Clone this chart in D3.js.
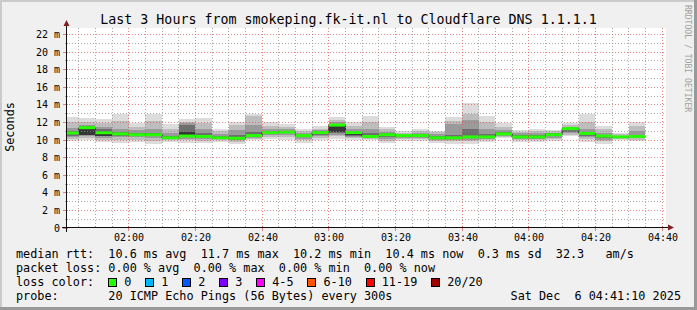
<!DOCTYPE html>
<html>
<head>
<meta charset="utf-8">
<script src="https://cdn.jsdelivr.net/npm/d3@7/dist/d3.min.js"></script>
<style>
  body { margin: 0; background: #f0f0f0; }
  svg { display: block; font-family: "DejaVu Sans Mono", monospace; }
  text { white-space: pre; }
</style>
</head>
<body>
<svg id="chart" width="697" height="310"></svg>
<script>
// time window of the graph (3 hours), rrd step 300s
const graphStart = new Date(Date.UTC(2025, 11, 6, 1, 41, 10));
const graphEnd = new Date(Date.UTC(2025, 11, 6, 4, 41, 10));
const firstBin = new Date(Date.UTC(2025, 11, 6, 1, 40, 0));
const stepMinutes = 5;

// median rtt per bin (ms)
const medians = [
  10.8, 11.4, 10.83, 10.7, 10.6, 10.6, 10.25, 10.45, 10.4, 10.25,
  10.2, 10.5, 10.85, 10.9, 10.5, 10.85, 11.7, 10.85, 10.4, 10.6,
  10.5, 10.5, 10.25, 10.25, 10.35, 10.35, 10.7, 10.35, 10.35, 10.6,
  11.3, 10.75, 10.45, 10.35, 10.4
];

// sorted ping samples per bin (ms), outer pair first -> inner pair
const smoke = [
  [9.9, 10.1, 10.3, 10.5, 10.7, 10.9, 11.0, 11.4, 12.0, 12.6],
  [9.95, 10.2, 10.4, 10.55, 10.6, 11.5, 11.55, 11.7, 12.0, 12.5],
  [9.8, 10.0, 10.2, 10.4, 10.5, 11.0, 11.2, 11.5, 11.9, 12.4],
  [9.7, 10.0, 10.3, 10.5, 10.65, 10.75, 10.9, 11.3, 12.2, 12.9],
  [9.75, 10.0, 10.3, 10.5, 10.55, 10.65, 10.85, 11.1, 11.5, 11.9],
  [9.6, 9.9, 10.25, 10.45, 10.55, 10.65, 10.85, 11.2, 12.2, 12.9],
  [9.8, 9.95, 10.1, 10.2, 10.2, 10.3, 10.5, 10.8, 11.2, 11.8],
  [9.7, 9.95, 10.15, 10.35, 10.4, 10.9, 11.7, 11.9, 12.1, 12.4],
  [9.65, 9.9, 10.1, 10.25, 10.35, 10.45, 10.8, 11.3, 11.9, 12.5],
  [9.75, 9.95, 10.1, 10.2, 10.2, 10.3, 10.45, 10.7, 11.0, 11.3],
  [9.55, 9.8, 9.95, 10.05, 10.15, 10.25, 10.6, 11.1, 11.7, 12.1],
  [9.95, 10.1, 10.25, 10.4, 10.45, 10.55, 10.9, 11.7, 12.7, 12.95],
  [10.15, 10.35, 10.55, 10.7, 10.8, 10.9, 11.0, 11.2, 11.6, 12.0],
  [10.0, 10.3, 10.55, 10.75, 10.85, 10.95, 11.05, 11.2, 11.5, 11.8],
  [9.7, 9.95, 10.15, 10.3, 10.45, 10.55, 10.6, 10.75, 11.0, 11.3],
  [10.0, 10.2, 10.4, 10.6, 10.8, 10.9, 10.95, 11.1, 11.3, 11.6],
  [10.15, 10.4, 10.6, 10.8, 10.9, 11.7, 11.8, 12.0, 12.3, 12.65],
  [10.05, 10.2, 10.35, 10.5, 10.6, 10.9, 10.95, 11.2, 11.6, 12.0],
  [10.0, 10.15, 10.25, 10.35, 10.35, 10.45, 10.8, 11.3, 12.0, 12.7],
  [9.65, 9.9, 10.15, 10.35, 10.55, 10.65, 10.75, 10.95, 11.2, 11.5],
  [9.9, 10.1, 10.25, 10.35, 10.45, 10.55, 10.6, 10.7, 10.85, 11.05],
  [9.9, 10.1, 10.25, 10.35, 10.45, 10.55, 10.6, 10.8, 11.0, 11.25],
  [9.7, 9.9, 10.05, 10.15, 10.2, 10.3, 10.5, 10.7, 10.9, 11.05],
  [9.6, 9.85, 10.0, 10.1, 10.15, 10.3, 10.6, 11.8, 12.2, 12.65],
  [9.6, 9.85, 10.05, 10.2, 10.3, 10.4, 11.3, 12.3, 13.0, 14.25],
  [9.8, 10.0, 10.15, 10.25, 10.3, 10.4, 10.65, 11.2, 12.0, 12.7],
  [10.2, 10.35, 10.5, 10.6, 10.65, 10.75, 10.9, 11.1, 11.5, 11.9],
  [9.8, 10.0, 10.15, 10.25, 10.3, 10.4, 10.55, 10.75, 10.95, 11.15],
  [9.8, 10.0, 10.15, 10.25, 10.3, 10.4, 10.55, 10.8, 11.0, 11.2],
  [9.9, 10.1, 10.25, 10.4, 10.55, 10.65, 10.75, 10.85, 11.0, 11.15],
  [10.4, 10.6, 10.8, 10.95, 11.1, 11.35, 11.35, 11.5, 11.7, 11.9],
  [9.8, 10.1, 10.3, 10.5, 10.7, 10.8, 10.9, 11.2, 12.0, 12.95],
  [9.6, 9.85, 10.05, 10.2, 10.4, 10.5, 10.55, 10.8, 11.2, 11.6],
  [9.95, 10.1, 10.2, 10.25, 10.3, 10.4, 10.45, 10.5, 10.65, 10.8],
  [9.9, 10.05, 10.2, 10.3, 10.3, 10.4, 10.6, 11.0, 11.6, 12.0]
];

const smokeColors = ['#dcdcdc', '#bdbdbd', '#9a9a9a', '#6e6e6e', '#363636'];

const lossLabels = ['0', '1', '2', '3', '4-5', '6-10', '11-19', '20/20'];
const lossColors = ['#26ff00', '#00b8ff', '#0059ff', '#7e00ff', '#ff00ff', '#ff5500', '#ff0000', '#a00000'];

const title = 'Last 3 Hours from smokeping.fk-it.nl to Cloudflare DNS 1.1.1.1';
const legendRows = [
  'median rtt:  10.6 ms avg  11.7 ms max  10.2 ms min  10.4 ms now  0.3 ms sd  32.3   am/s',
  'packet loss: 0.00 % avg  0.00 % max  0.00 % min  0.00 % now',
  'loss color:',
  'probe:       20 ICMP Echo Pings (56 Bytes) every 300s'
];
const stamp = 'Sat Dec  6 04:41:10 2025';

const W = 697, H = 310;
const plot = { left: 66, right: 666, top: 28, bottom: 228 };

const svg = d3.select('#chart');

// background + 3d frame
svg.append('rect').attr('width', W).attr('height', H).attr('fill', '#f0f0f0');
svg.append('rect').attr('x', 0).attr('y', 0).attr('width', W).attr('height', 2).attr('fill', '#cbcbcb');
svg.append('rect').attr('x', 0).attr('y', 0).attr('width', 2).attr('height', H).attr('fill', '#cbcbcb');
svg.append('rect').attr('x', 0).attr('y', H - 3).attr('width', W).attr('height', 3).attr('fill', '#999999');
svg.append('rect').attr('x', W - 3).attr('y', 0).attr('width', 3).attr('height', H).attr('fill', '#999999');

// canvas
svg.append('rect')
  .attr('x', plot.left).attr('y', plot.top)
  .attr('width', plot.right - plot.left).attr('height', plot.bottom - plot.top)
  .attr('fill', '#ffffff');

const x = d3.scaleUtc().domain([graphStart, graphEnd]).range([plot.left, plot.right]);
const y = d3.scaleLinear().domain([0, 22.73]).range([plot.bottom, plot.top]);

const bins = medians.map((m, i) => {
  const t0 = d3.utcMinute.offset(firstBin, i * stepMinutes);
  const t1 = d3.utcMinute.offset(t0, stepMinutes);
  return {
    x0: x(t0 < graphStart ? graphStart : t0),
    x1: x(t1),
    median: m,
    pings: smoke[i]
  };
});

// smoke: outer band first, darker inner bands stacked on top
const smokeG = svg.append('g').attr('shape-rendering', 'crispEdges');
bins.forEach(b => {
  const n = b.pings.length;
  for (let k = 0; k < n / 2; k++) {
    const lo = b.pings[k], hi = b.pings[n - 1 - k];
    if (hi <= lo) continue;
    smokeG.append('rect')
      .attr('x', b.x0).attr('width', b.x1 - b.x0)
      .attr('y', y(hi)).attr('height', y(lo) - y(hi))
      .attr('fill', smokeColors[k]);
  }
});

// median as step line
const stepPts = [];
bins.forEach(b => { stepPts.push([b.x0, y(b.median)]); stepPts.push([b.x1, y(b.median)]); });
svg.append('path')
  .attr('d', d3.line()(stepPts))
  .attr('fill', 'none')
  .attr('stroke', '#202020')
  .attr('stroke-width', 1);

// loss colour band around the median (no loss -> green)
svg.append('g').selectAll('rect')
  .data(bins)
  .join('rect')
  .attr('x', d => d.x0).attr('width', d => d.x1 - d.x0)
  .attr('y', d => y(d.median) - 1.5).attr('height', 3)
  .attr('fill', lossColors[0]);

// grid
const px = v => Math.floor(v) + 0.5;
const grid = svg.append('g').attr('shape-rendering', 'crispEdges');
const minorColor = 'rgba(143,143,143,0.75)';
const majorColor = 'rgba(222,80,80,0.7)';

const minorT = d3.utcMinute.every(5).range(graphStart, graphEnd);
const majorT = d3.utcMinute.every(20).range(graphStart, graphEnd);
const isMajorT = t => t.getUTCMinutes() % 20 === 0;

grid.selectAll('.vmin')
  .data(minorT.filter(t => !isMajorT(t)))
  .join('line')
  .attr('x1', d => px(x(d))).attr('x2', d => px(x(d)))
  .attr('y1', plot.top).attr('y2', plot.bottom)
  .attr('stroke', minorColor).attr('stroke-dasharray', '1,2');

const yMinor = d3.range(1, 23, 2);
const yMajor = d3.range(0, 23, 2);

grid.selectAll('.hmin')
  .data(yMinor)
  .join('line')
  .attr('x1', plot.left).attr('x2', plot.right)
  .attr('y1', d => px(y(d))).attr('y2', d => px(y(d)))
  .attr('stroke', minorColor).attr('stroke-dasharray', '1,2');

grid.selectAll('.vmaj')
  .data(majorT)
  .join('line')
  .attr('x1', d => px(x(d))).attr('x2', d => px(x(d)))
  .attr('y1', plot.top).attr('y2', plot.bottom)
  .attr('stroke', majorColor).attr('stroke-dasharray', '1,2');

grid.selectAll('.hmaj')
  .data(yMajor.filter(d => d > 0))
  .join('line')
  .attr('x1', plot.left).attr('x2', plot.right)
  .attr('y1', d => px(y(d))).attr('y2', d => px(y(d)))
  .attr('stroke', majorColor).attr('stroke-dasharray', '1,2');

// small solid ticks
grid.selectAll('.xt')
  .data(minorT)
  .join('line')
  .attr('x1', d => px(x(d))).attr('x2', d => px(x(d)))
  .attr('y1', plot.bottom - 2).attr('y2', d => isMajorT(d) ? plot.bottom + 3 : plot.bottom)
  .attr('stroke', d => isMajorT(d) ? majorColor : minorColor);
grid.selectAll('.yt')
  .data(d3.range(0, 23))
  .join('line')
  .attr('x1', d => d % 2 === 0 ? plot.left - 3 : plot.left - 1).attr('x2', plot.left + 2)
  .attr('y1', d => px(y(d))).attr('y2', d => px(y(d)))
  .attr('stroke', d => d % 2 === 0 ? majorColor : minorColor);

// axes with arrows
const axisG = svg.append('g').attr('shape-rendering', 'crispEdges');
axisG.append('line')
  .attr('x1', plot.left - 4).attr('x2', plot.right + 4)
  .attr('y1', plot.bottom - 0.5).attr('y2', plot.bottom - 0.5)
  .attr('stroke', '#101010');
axisG.append('line')
  .attr('x1', plot.left + 0.5).attr('x2', plot.left + 0.5)
  .attr('y1', plot.bottom + 4).attr('y2', plot.top - 4)
  .attr('stroke', '#101010');
svg.append('path')
  .attr('d', `M${plot.right + 2},${plot.bottom - 3.5}L${plot.right + 8},${plot.bottom - 0.5}L${plot.right + 2},${plot.bottom + 2.5}Z`)
  .attr('fill', '#7f1f1f');
svg.append('path')
  .attr('d', `M${plot.left - 2.5},${plot.top - 2}L${plot.left + 0.5},${plot.top - 8}L${plot.left + 3.5},${plot.top - 2}Z`)
  .attr('fill', '#7f1f1f');

// tick labels
svg.append('g').selectAll('text')
  .data(yMajor)
  .join('text')
  .attr('x', 60).attr('y', d => y(d) + 3.5)
  .attr('text-anchor', 'end')
  .attr('font-size', 10)
  .text(d => d === 0 ? '0' : d + ' m');

const fmt = d3.utcFormat('%H:%M');
svg.append('g').selectAll('text')
  .data(majorT)
  .join('text')
  .attr('x', d => px(x(d)) + 0.5).attr('y', 241)
  .attr('text-anchor', 'middle')
  .attr('font-size', 10)
  .text(d => fmt(d));

// title, axis title, watermark
svg.append('text')
  .attr('x', 348.5).attr('y', 23.5)
  .attr('text-anchor', 'middle')
  .attr('font-size', 13.3)
  .text(title);

svg.append('text')
  .attr('transform', 'translate(14,127) rotate(-90)')
  .attr('text-anchor', 'middle')
  .attr('font-size', 11.8)
  .text('Seconds');

svg.append('text')
  .attr('transform', 'translate(685,5) rotate(90)')
  .attr('font-size', 8.1)
  .attr('fill', '#a0a0a0')
  .text('RRDTOOL / TOBI OETIKER');

// legend
const rowY = [257.5, 271.5, 285.5, 299.5];
legendRows.forEach((t, i) => {
  svg.append('text')
    .attr('x', 16).attr('y', rowY[i])
    .attr('font-size', 11.8)
    .text(t);
});
svg.append('text')
  .attr('x', 681).attr('y', rowY[3])
  .attr('text-anchor', 'end')
  .attr('font-size', 11.8)
  .text(stamp);

let lx = 108.5;
lossLabels.forEach((lab, i) => {
  svg.append('rect')
    .attr('x', lx).attr('y', 278.5)
    .attr('width', 8).attr('height', 8)
    .attr('fill', lossColors[i])
    .attr('stroke', '#000')
    .attr('shape-rendering', 'crispEdges');
  const t = svg.append('text')
    .attr('x', lx + 15.7).attr('y', rowY[2])
    .attr('font-size', 11.8)
    .text(lab);
  lx = lx + 15.7 + t.node().getComputedTextLength() + 14.2;
});
</script>
</body>
</html>
